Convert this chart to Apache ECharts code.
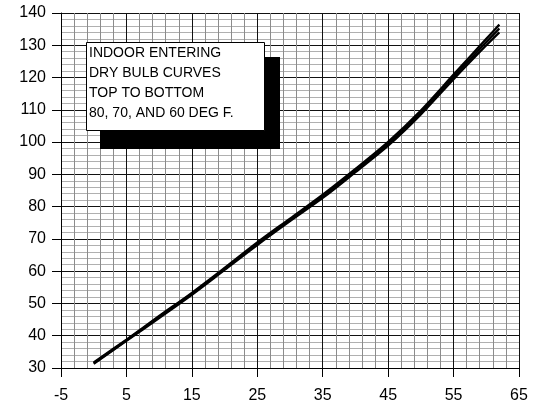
<!DOCTYPE html>
<html>
<head>
<meta charset="utf-8">
<script src="https://cdn.jsdelivr.net/npm/echarts@6/dist/echarts.min.js"></script>
<style>
  html, body { margin: 0; padding: 0; background: #fff; }
  #chart { width: 534px; height: 412px; }
</style>
</head>
<body>
<div id="chart"></div>
<script>
// Outdoor temperature (deg F) sample points shared by all curves
const outdoorTemp = [0, 5, 10, 15, 20, 25, 30, 35, 40, 45, 50, 55, 60, 62];
// Curve values for indoor entering dry bulb 80, 70 and 60 deg F
const dryBulb80 = [31.7, 38.8, 46.1, 53.3, 61.0, 68.9, 76.3, 83.7, 91.7, 100.1, 109.8, 120.9, 132.0, 136.4];
const dryBulb70 = [31.5, 38.6, 45.8, 53.0, 60.7, 68.5, 75.9, 83.2, 91.2, 99.5, 109.2, 120.2, 131.0, 135.2];
const dryBulb60 = [31.3, 38.4, 45.5, 52.7, 60.4, 68.1, 75.5, 82.7, 90.7, 98.9, 108.6, 119.5, 130.0, 134.0];
// Axis ranges and tick spacing
const xRange = [-5, 65];
const yRange = [30, 140];
const tickStep = 10;
// Note box text
const noteLines = ['INDOOR ENTERING', 'DRY BULB CURVES', 'TOP TO BOTTOM', '80, 70, AND 60 DEG F.'];

const font = '"Liberation Sans", Arial, Helvetica, sans-serif';

function pairs(xs, ys) {
  return xs.map((x, i) => [x, ys[i]]);
}

function curve(name, ys) {
  return {
    name: name,
    type: 'line',
    data: pairs(outdoorTemp, ys),
    smooth: 0.3,
    symbol: 'none',
    z: 5,
    lineStyle: { color: '#000', width: 2.3 },
    emphasis: { disabled: true }
  };
}

const axisCommon = {
  type: 'value',
  interval: tickStep,
  axisLine: { show: true, onZero: false, lineStyle: { color: '#000', width: 1 } },
  axisTick: { show: true, length: 9, lineStyle: { color: '#000', width: 1 } },
  axisLabel: { color: '#000', fontSize: 16, fontFamily: font },
  splitLine: { show: true, lineStyle: { color: '#111', width: 1 } },
  minorTick: { show: false, splitNumber: 5 },
  minorSplitLine: { show: true, lineStyle: { color: '#8c8c8c', width: 1 } }
};

const noteX = 86, noteY = 42, noteW = 178, noteH = 88;

const chart = echarts.init(document.getElementById('chart'), null, { renderer: 'canvas' });
chart.setOption({
  animation: false,
  backgroundColor: '#fff',
  grid: { left: 61, right: 15, top: 13, bottom: 44, containLabel: false },
  xAxis: Object.assign({}, axisCommon, {
    min: xRange[0], max: xRange[1],
    axisLabel: Object.assign({}, axisCommon.axisLabel, { margin: 20 })
  }),
  yAxis: Object.assign({}, axisCommon, {
    min: yRange[0], max: yRange[1],
    axisLabel: Object.assign({}, axisCommon.axisLabel, { margin: 15 }),
    minorSplitLine: { show: true, lineStyle: { color: '#b0b0b0', width: 1 } }
  }),
  series: [
    curve('80 DEG F', dryBulb80),
    curve('70 DEG F', dryBulb70),
    curve('60 DEG F', dryBulb60)
  ],
  graphic: [
    {
      type: 'rect', z: 100,
      shape: { x: noteX + 14, y: noteY + 15, width: noteW + 2, height: noteH + 4 },
      style: { fill: '#000' }
    },
    {
      type: 'rect', z: 101,
      shape: { x: noteX + 0.5, y: noteY + 0.5, width: noteW, height: noteH },
      style: { fill: '#fff', stroke: '#000', lineWidth: 1 }
    },
    {
      type: 'group', z: 102,
      children: noteLines.map((t, i) => ({
        type: 'text', z: 102,
        x: noteX + 3, y: noteY + 11 + i * 20,
        style: {
          text: t, fill: '#000', font: '14px ' + font,
          verticalAlign: 'middle', align: 'left'
        }
      }))
    }
  ]
});
</script>
</body>
</html>
